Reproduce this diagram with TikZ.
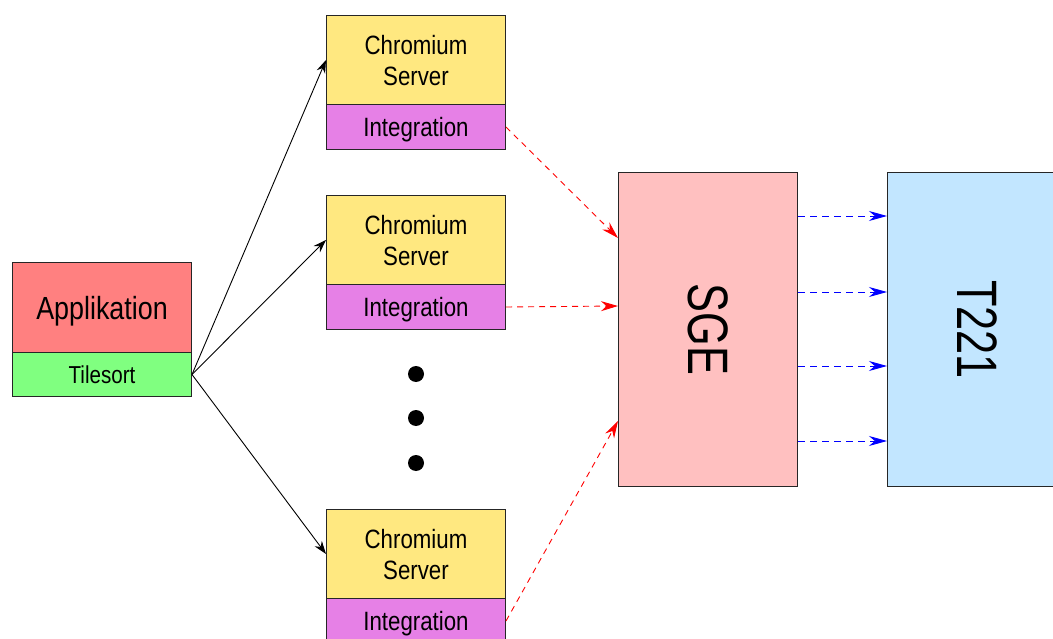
\documentclass[tikz,border=0pt]{standalone}
\usepackage{fontspec}
\setmainfont{Liberation Sans}[FakeStretch=0.84]
\newfontfamily\bigfont{Liberation Sans}[FakeStretch=0.76]
\usetikzlibrary{arrows.meta,calc}
\definecolor{appred}{HTML}{FF8080}
\definecolor{tilegreen}{HTML}{80FF80}
\definecolor{chromyellow}{HTML}{FFE880}
\definecolor{integmag}{HTML}{E680E6}
\definecolor{sgepink}{HTML}{FFC0C0}
\definecolor{tblue}{HTML}{C2E6FF}
\begin{document}
\begin{tikzpicture}[x=1pt,y=-1pt,
  box/.style={draw=black!85, line width=1pt, inner sep=0pt, anchor=north west, minimum width=179pt, align=center},
  chrom/.style={box, fill=chromyellow, minimum height=89pt, text depth=0pt, font=\fontsize{26.5}{31}\selectfont},
  integ/.style={box, fill=integmag, minimum height=45pt, text depth=0pt, font=\fontsize{26.5}{31}\selectfont},
  big/.style={box, minimum height=314pt},
  biglabel/.style={rotate=-90, inner sep=0pt, font=\bigfont\fontsize{57}{60}\selectfont},
  blackarrow/.style={draw=black, line width=0.9pt, -{Stealth[length=13pt,width=9pt]}},
  redarrow/.style={draw=red, line width=0.9pt, dash pattern=on 6pt off 5pt, -{Stealth[length=17pt,width=10pt]}},
  bluearrow/.style={draw=blue, line width=0.9pt, dash pattern=on 7pt off 5pt, -{Stealth[length=18pt,width=10pt]}},
  dot/.style={circle, fill=black, inner sep=0pt, minimum size=16pt}
]
\useasboundingbox (0,0) rectangle (1053,639);
\clip (0,0) rectangle (1053,639);
% left
\node[box, fill=appred, minimum height=90pt, text depth=0pt, font=\fontsize{32}{36}\selectfont] (app) at (12,262) {Applikation};
\node[box, fill=tilegreen, minimum height=44pt, font=\fontsize{24.5}{28}\selectfont] (tile) at (12,352) {Tilesort};
% chromium servers
\node[chrom] (c1) at (326,15) {Chromium\\Server};
\node[integ] (i1) at (326,104) {Integration};
\node[chrom] (c2) at (326,195) {Chromium\\Server};
\node[integ] (i2) at (326,284) {Integration};
\node[chrom] (c3) at (326,509) {Chromium\\Server};
\node[integ] (i3) at (326,598) {Integration};
% dots
\node[dot] (d1) at (416,374) {};
\node[dot] (d2) at (416,418) {};
\node[dot] (d3) at (416,463) {};
% SGE and T221
\node[big, fill=sgepink] (sge) at (618,172) {};
\node[biglabel] (sgel) at (sge.center) {SGE};
\node[big, fill=tblue] (t) at (887,172) {};
\node[biglabel] (tl) at (t.center) {T221};
% coordinates
\coordinate (s1) at ($(sge.north west)+(0,66)$);
\coordinate (s2) at ($(sge.north west)+(0,134)$);
\coordinate (s3) at ($(sge.south west)+(0,-66)$);
% black arrows
\draw[blackarrow] (tile.east) -- (c1.west);
\draw[blackarrow] (tile.east) -- (c2.west);
\draw[blackarrow] (tile.east) -- (c3.west);
% red arrows
\draw[redarrow] (i1.east) -- (s1);
\draw[redarrow] (i2.east) -- (s2);
\draw[redarrow] (i3.east) -- (s3);
% blue arrows
\foreach \yy in {44,120,194,269} {
  \draw[bluearrow] ($(sge.north east)+(0,\yy)$) -- ($(t.north west)+(0,\yy)$);
}
\end{tikzpicture}
\end{document}
